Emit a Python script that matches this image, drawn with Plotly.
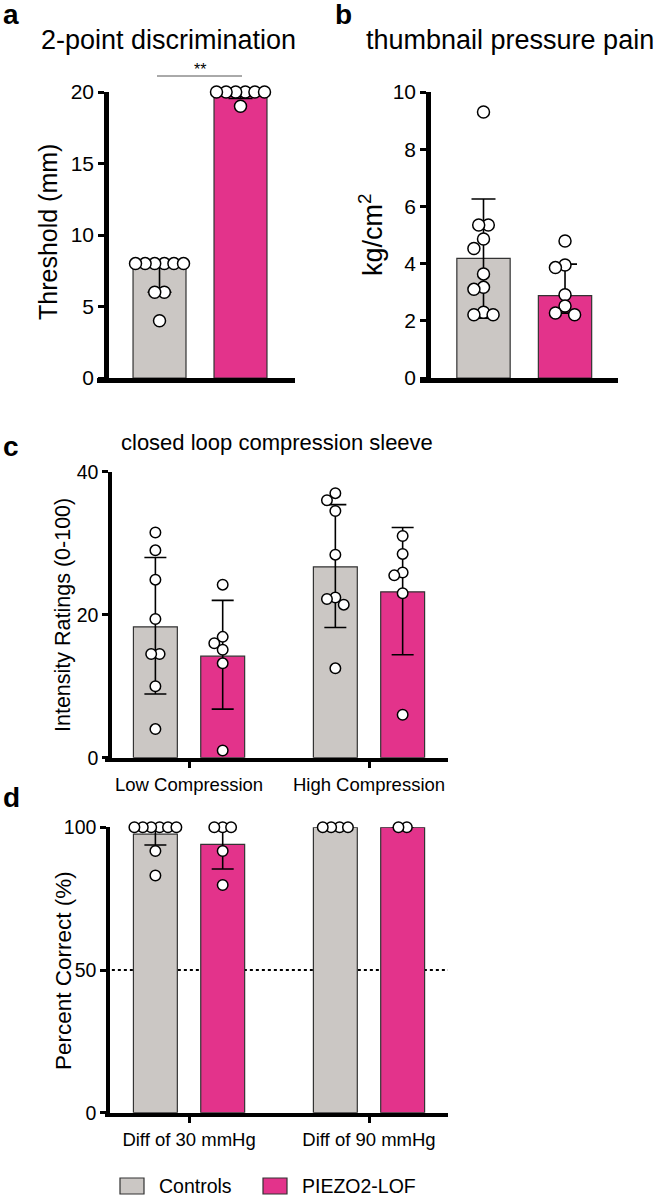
import plotly.graph_objects as go
import numpy as np

W, H = 664, 1197

# ---------------- data ----------------
group_names = ["Controls", "PIEZO2-LOF"]

# panel a: 2-point discrimination (mm)
a_mean = [7.8, 19.85]
a_low = [6.0, 19.55]
a_high = [7.8, 19.85]
a_ctrl_pts = [8, 8, 8, 8, 8, 8, 6, 6, 4]
a_lof_pts = [20, 20, 20, 20, 20, 20, 19]
a_ticks = [0, 5, 10, 15, 20]
a_sig = "**"

# panel b: thumbnail pressure pain (kg/cm2)
b_mean = [4.18, 2.88]
b_low = [2.09, 2.27]
b_high = [6.26, 3.98]
b_ctrl_pts = [9.3, 5.35, 5.35, 4.86, 4.53, 3.64, 3.17, 3.10, 2.30, 2.21, 2.21]
b_lof_pts = [4.79, 3.95, 3.86, 2.91, 2.52, 2.27, 2.21]
b_ticks = [0, 2, 4, 6, 8, 10]

# panel c: closed loop compression sleeve
c_categories = ["Low Compression", "High Compression"]
c_ctrl_mean = [18.3, 26.7]
c_ctrl_low = [8.9, 18.2]
c_ctrl_high = [28.0, 35.4]
c_lof_mean = [14.2, 23.2]
c_lof_low = [6.8, 14.4]
c_lof_high = [22.0, 32.2]
c_ctrl_pts = [[31.5, 29.0, 24.9, 19.4, 14.5, 14.5, 10.0, 4.0],
              [37.0, 36.0, 34.5, 28.4, 22.4, 22.2, 21.4, 12.5]]
c_lof_pts = [[24.2, 16.9, 16.0, 15.1, 13.2, 1.0],
             [31.0, 28.5, 25.9, 25.5, 23.0, 6.0]]
c_ticks = [0, 20, 40]

# panel d: percent correct
d_categories = ["Diff of 30 mmHg", "Diff of 90 mmHg"]
d_ctrl_mean = [97.6, 100]
d_ctrl_low = [93.8, 100]
d_ctrl_high = [100, 100]
d_lof_mean = [94.0, 100]
d_lof_low = [85.4, 100]
d_lof_high = [100, 100]
d_ctrl_pts = [[100, 100, 100, 100, 100, 100, 91.7, 83.1],
              [100, 100, 100, 100]]
d_lof_pts = [[100, 100, 100, 91.7, 79.8],
             [100, 100]]
d_ticks = [0, 50, 100]
d_chance = 50

# ---------------- style ----------------
GREY = "#cbc7c4"
PINK = "#e3338b"
EDGE = "#333333"
FONT = "Liberation Sans, Arial, Helvetica, sans-serif"


def px(x):
    return x / W


def py(y):
    return 1 - y / H


def swarm(vals, ppx, ppy, step):
    """simple beeswarm: offsets (data units) so markers don't pile up"""
    n = len(vals)
    order = sorted(range(n), key=lambda i: -vals[i])
    placed = []
    off = [0.0] * n
    cands = [0.0]
    for j in range(1, 30):
        cands += [-j * step, j * step]
    for i in order:
        yv = vals[i] * ppy
        for c in cands:
            if all((c - a) ** 2 + (yv - b) ** 2 >= step ** 2 - 1e-6 for a, b in placed):
                off[i] = c
                placed.append((c, yv))
                break
    for v in set(vals):
        idx = [i for i in range(n) if vals[i] == v]
        if len(idx) > 1:
            m = np.mean([off[i] for i in idx])
            for i in idx:
                off[i] -= m
    return [o / ppx for o in off]


fig = go.Figure()

# panel geometry (pixels)
panels = {
    "a": dict(xd=(97, 295), ypos=106, yd=(92, 378), xr=(-0.772, 1.673), yr=(0, 20)),
    "b": dict(xd=(420, 618), ypos=428, yd=(92, 378), xr=(-0.779, 1.650), yr=(0, 10)),
    "c": dict(xd=(105, 448), ypos=110, yd=(471.7, 757.7), xr=(-0.467, 1.439), yr=(0, 40)),
    "d": dict(xd=(105, 448), ypos=108, yd=(827.3, 1112.7), xr=(-0.467, 1.439), yr=(0, 100)),
}
axid = {"a": ("x", "y"), "b": ("x2", "y2"), "c": ("x3", "y3"), "d": ("x4", "y4")}


def scales(k):
    p = panels[k]
    ppx = (p["xd"][1] - p["xd"][0]) / (p["xr"][1] - p["xr"][0])
    ppy = (p["yd"][1] - p["yd"][0]) / (p["yr"][1] - p["yr"][0])
    return ppx, ppy


def add_bars(k, xs, means, lows, highs, color, width, cap, name):
    xa, ya = axid[k]
    fig.add_trace(go.Bar(
        x=xs, y=means, width=width, xaxis=xa, yaxis=ya, name=name, showlegend=False,
        marker=dict(color=color, line=dict(color=EDGE, width=1.2)),
        error_y=dict(type="data", symmetric=False,
                     array=[h - m for h, m in zip(highs, means)],
                     arrayminus=[m - l for m, l in zip(means, lows)],
                     color="black", thickness=1.6, width=cap),
    ))


def add_points(k, xc, vals, size):
    xa, ya = axid[k]
    ppx, ppy = scales(k)
    offs = swarm(vals, ppx, ppy, size * 0.8)
    fig.add_trace(go.Scatter(
        x=[xc + o for o in offs], y=vals, mode="markers", xaxis=xa, yaxis=ya,
        showlegend=False, cliponaxis=False,
        marker=dict(size=size, color="white", line=dict(color="black", width=1.5)),
    ))


# panel a
add_bars("a", [0, 1], a_mean, a_low, a_high, [GREY, PINK], 0.654, 12, "a")
add_points("a", 0, a_ctrl_pts, 12)
add_points("a", 1, a_lof_pts, 12)
# panel b
add_bars("b", [0, 1], b_mean, b_low, b_high, [GREY, PINK], 0.654, 12, "b")
add_points("b", 0, b_ctrl_pts, 12)
add_points("b", 1, b_lof_pts, 12)
# panel c / d
OFF, BW = 0.187, 0.244
for k, cm, cl, ch, lm, ll, lh, cp, lp in [
    ("c", c_ctrl_mean, c_ctrl_low, c_ctrl_high, c_lof_mean, c_lof_low, c_lof_high, c_ctrl_pts, c_lof_pts),
    ("d", d_ctrl_mean, d_ctrl_low, d_ctrl_high, d_lof_mean, d_lof_low, d_lof_high, d_ctrl_pts, d_lof_pts),
]:
    add_bars(k, [i - OFF for i in range(2)], cm, cl, ch, GREY, BW, 11, group_names[0])
    add_bars(k, [i + OFF for i in range(2)], lm, ll, lh, PINK, BW, 11, group_names[1])
    for i in range(2):
        add_points(k, i - OFF, cp[i], 10.5)
        add_points(k, i + OFF, lp[i], 10.5)

# axes
layout = {}
tickvals = {"a": a_ticks, "b": b_ticks, "c": c_ticks, "d": d_ticks}
for k in "abcd":
    p = panels[k]
    n = "" if k == "a" else str("abcd".index(k) + 1)
    small = k in "ab"
    lw = 4.5 if small else 3.5
    xa = dict(domain=[px(p["xd"][0]), px(p["xd"][1])], range=list(p["xr"]),
              anchor="y" + n, showline=True, linecolor="black", linewidth=lw,
              showgrid=False, zeroline=False, fixedrange=True, automargin=False)
    if small:
        xa.update(showticklabels=False, ticks="")
    else:
        cats = c_categories if k == "c" else d_categories
        xa.update(tickmode="array", tickvals=[0, 1], ticktext=cats, ticks="outside",
                  ticklen=7, tickwidth=3, tickcolor="black",
                  tickfont=dict(family=FONT, size=18.5, color="black"))
    ya = dict(domain=[py(p["yd"][1]), py(p["yd"][0])], range=list(p["yr"]),
              anchor="free", position=px(p["ypos"]), showline=True, linecolor="black",
              linewidth=lw, showgrid=False, zeroline=False, ticks="outside",
              ticklen=6, tickwidth=3, tickcolor="black", tickmode="array",
              tickvals=tickvals[k], fixedrange=True, automargin=False,
              tickfont=dict(family=FONT, size=21 if small else 19.5, color="black"))
    layout["xaxis" + n] = xa
    layout["yaxis" + n] = ya

annotations = []


def text(x, y, s, size, bold=False, angle=0, xanchor="center", yanchor="middle"):
    annotations.append(dict(
        x=px(x), y=py(y), xref="paper", yref="paper", text=("<b>%s</b>" % s) if bold else s,
        showarrow=False, textangle=angle, xanchor=xanchor, yanchor=yanchor,
        font=dict(family=FONT, size=size, color="black")))


text(1, 14, "a", 28, bold=True, xanchor="left")
text(333, 14, "b", 28, bold=True, xanchor="left")
text(1, 446, "c", 28, bold=True, xanchor="left")
text(1, 797, "d", 28, bold=True, xanchor="left")

text(168, 40, "2-point discrimination", 27)
text(510, 40, "thumbnail pressure pain", 27)
text(277, 443, "closed loop compression sleeve", 22)

text(48, 232, "Threshold (mm)", 25, angle=-90)
text(371, 234, "kg/cm<sup>2</sup>", 27, angle=-90)
text(63, 615, "Intensity Ratings (0-100)", 21.5, angle=-90)
text(63, 971, "Percent Correct (%)", 22.5, angle=-90)

# significance bracket in panel a
text(200, 69, a_sig, 16)

shapes = [
    dict(type="line", xref="paper", yref="paper", x0=px(157), x1=px(242), y0=py(76), y1=py(76),
         line=dict(color="#555555", width=1)),
    dict(type="line", xref="x4 domain", yref="y4", x0=0.02, x1=1.0, y0=d_chance, y1=d_chance,
         layer="below", line=dict(color="black", width=2, dash="dot")),
    # legend swatches
    dict(type="rect", xref="paper", yref="paper", x0=px(120), x1=px(144), y0=py(1194), y1=py(1178),
         fillcolor=GREY, line=dict(color=EDGE, width=1.2)),
    dict(type="rect", xref="paper", yref="paper", x0=px(263), x1=px(287), y0=py(1194), y1=py(1178),
         fillcolor=PINK, line=dict(color=EDGE, width=1.2)),
]
text(157, 1186, group_names[0], 19.5, xanchor="left")
text(300, 1186, group_names[1], 19.5, xanchor="left")

fig.update_layout(
    width=W, height=H, margin=dict(l=0, r=0, t=0, b=0, pad=0), autosize=False,
    paper_bgcolor="white", plot_bgcolor="white",
    barmode="overlay", showlegend=False,
    annotations=annotations, shapes=shapes,
    font=dict(family=FONT, color="black"),
    **layout,
)

fig.write_html("out.html", config={"displayModeBar": False},
               post_script="document.body.style.margin='0px';document.body.style.overflow='hidden';")
